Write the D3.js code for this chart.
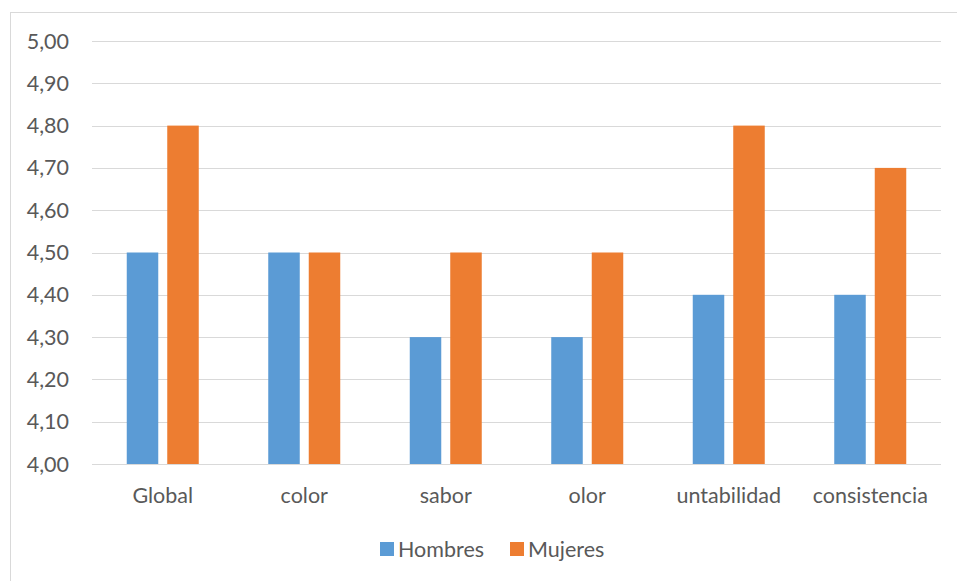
<!DOCTYPE html>
<html>
<head>
<meta charset="utf-8">
<script src="https://cdn.jsdelivr.net/npm/d3@7"></script>
<style>
  body { margin: 0; background: #fff; }
  svg { display: block; }
  text { font-family: Lato, "Open Sans", sans-serif; fill: #595959; }
</style>
</head>
<body>
<svg id="chart" width="957" height="581"></svg>
<script>
const categories = ["Global", "color", "sabor", "olor", "untabilidad", "consistencia"];
const seriesNames = ["Hombres", "Mujeres"];
const hombres = [4.5, 4.5, 4.3, 4.3, 4.4, 4.4];
const mujeres = [4.8, 4.5, 4.5, 4.5, 4.8, 4.7];
const colors = ["#5b9bd5", "#ed7d31"];
const yTicks = [4.0, 4.1, 4.2, 4.3, 4.4, 4.5, 4.6, 4.7, 4.8, 4.9, 5.0];

const svg = d3.select("#chart");
const fontSize = 21.5;

// chart frame
svg.append("rect")
  .attr("x", 10.5).attr("y", 12.5)
  .attr("width", 957).attr("height", 581)
  .attr("fill", "none").attr("stroke", "#d9d9d9");

const plot = { left: 92, right: 941, top: 41, bottom: 464 };

const x0 = d3.scaleBand().domain(categories).range([plot.left, plot.right]);
const groupW = 72;
const gOff = (x0.bandwidth() - groupW) / 2;
const x1 = d3.scaleBand().domain(seriesNames).range([gOff, gOff + groupW]).paddingInner(0.222).paddingOuter(0);
const y = d3.scaleLinear().domain([4.0, 5.0]).range([plot.bottom, plot.top]);

const fmt = v => d3.format(".2f")(v).replace(".", ",");

// gridlines
svg.append("g").selectAll("line").data(yTicks).join("line")
  .attr("x1", plot.left).attr("x2", plot.right)
  .attr("y1", d => Math.round(y(d)) + 0.5).attr("y2", d => Math.round(y(d)) + 0.5)
  .attr("stroke", "#d9d9d9").attr("stroke-width", 1);

// y tick labels
svg.append("g").selectAll("text").data(yTicks).join("text")
  .attr("x", 69).attr("y", d => y(d))
  .attr("dy", "0.35em")
  .attr("text-anchor", "end")
  .attr("font-size", fontSize)
  .text(fmt);

// bars
const rows = categories.map((c, i) => ({ cat: c, vals: [hombres[i], mujeres[i]] }));
const groups = svg.append("g").selectAll("g").data(rows).join("g")
  .attr("transform", d => `translate(${x0(d.cat)},0)`);
groups.selectAll("rect").data(d => d.vals.map((v, j) => ({ name: seriesNames[j], v, j })))
  .join("rect")
  .attr("x", d => x1(d.name))
  .attr("width", x1.bandwidth())
  .attr("y", d => y(d.v))
  .attr("height", d => y(4.0) - y(d.v))
  .attr("fill", d => colors[d.j]);

// category labels
svg.append("g").selectAll("text").data(categories).join("text")
  .attr("x", d => x0(d) + x0.bandwidth() / 2)
  .attr("y", 495).attr("dy", "0.35em")
  .attr("text-anchor", "middle")
  .attr("font-size", fontSize)
  .text(d => d);

// legend
const legendItems = [
  { name: seriesNames[0], color: colors[0], x: 380 },
  { name: seriesNames[1], color: colors[1], x: 510 }
];
const lg = svg.append("g").selectAll("g").data(legendItems).join("g")
  .attr("transform", d => `translate(${d.x},549)`);
lg.append("rect").attr("x", 0).attr("y", -7).attr("width", 14).attr("height", 14)
  .attr("fill", d => d.color);
lg.append("text").attr("x", 18).attr("y", 0).attr("dy", "0.35em")
  .attr("font-size", fontSize).text(d => d.name);
</script>
</body>
</html>
